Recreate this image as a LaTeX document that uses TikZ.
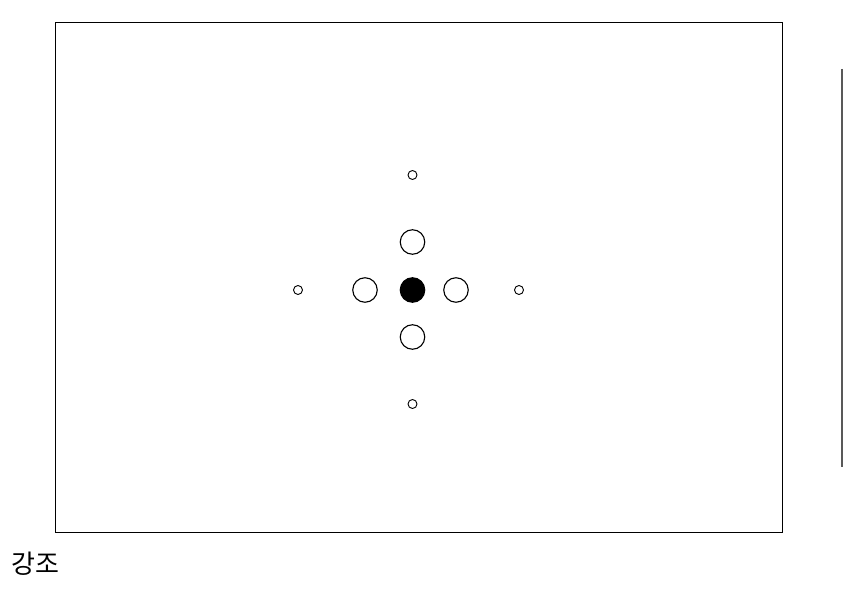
\documentclass[tikz,border=0pt]{standalone}
\usepackage{fontspec}
\newfontfamily\kr{Noto Sans CJK KR}
\begin{document}
\begin{tikzpicture}[x=1pt,y=-1pt,
  big/.style={circle,draw=black,line width=1.1pt,minimum size=24.5pt,inner sep=0pt},
  small/.style={circle,draw=black,line width=0.9pt,minimum size=9pt,inner sep=0pt}]
\useasboundingbox (0,0) rectangle (843,596);
\node[draw=black,line width=1.1pt,minimum width=727pt,minimum height=510pt,inner sep=0pt,anchor=north west] (frame) at (55,22) {};
\coordinate (vt) at (842,69);
\coordinate (vb) at (842,467);
\draw[gray!70!black,line width=1.4pt] (vt) -- (vb);
\node[big,fill=black] (c) at (412.5,290) {};
\node[big] (n) at (412.5,242) {};
\node[big] (s) at (412.5,337) {};
\node[big] (w) at (365,290) {};
\node[big] (e) at (456,290) {};
\node[small] (nn) at (412.5,175) {};
\node[small] (ss) at (412.5,404) {};
\node[small] (ww) at (298,290) {};
\node[small] (ee) at (519,290) {};
\node[anchor=west,inner sep=0pt,font=\kr\fontsize{26pt}{30pt}\selectfont] (lbl) at (11,564) {강조};
\end{tikzpicture}
\end{document}
